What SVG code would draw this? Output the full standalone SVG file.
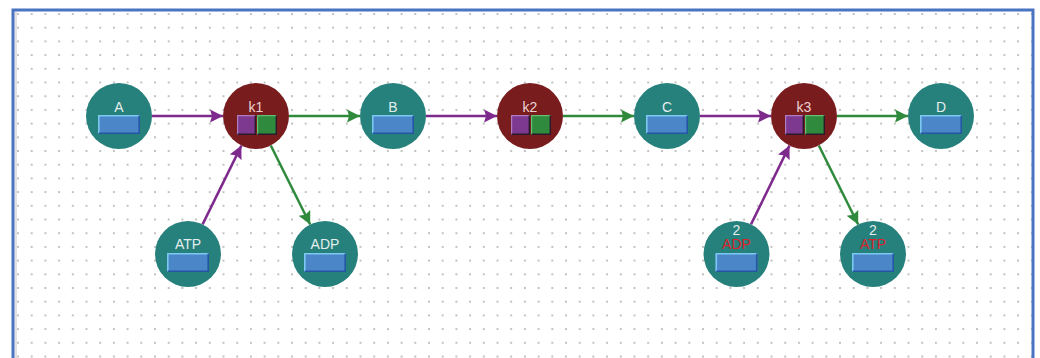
<svg xmlns="http://www.w3.org/2000/svg" width="1040" height="358" viewBox="0 0 1040 358">
  <style>
    .species { fill: #26807b; }
    .reaction { fill: #781c1e; }
    .lbl { font-family: "Liberation Sans", Arial, sans-serif; font-size: 14px; text-anchor: middle; }
    .slbl { fill: #e4eeee; }
    .rlbl { fill: #ecd2d2; }
    .red { fill: #d9232a; }
    .glyph { fill: #4a86c8; }
    .hi { fill: none; stroke: #7cc8f0; stroke-width: 1.6; }
    .lo { fill: none; stroke: #2456a4; stroke-width: 1.6; }
    .sq-p { fill: #7d3990; }
    .sq-g { fill: #2f8a3e; }
    .sq-hi { fill: none; stroke: #b07cc0; stroke-width: 1.2; }
    .sq-hig { fill: none; stroke: #64c070; stroke-width: 1.2; }
    .sq-lo { fill: none; stroke: #2a1a2a; stroke-width: 1.4; }
    .sub { stroke: #7e2a8c; stroke-width: 2.5; fill: none; }
    .prod { stroke: #2f8a3c; stroke-width: 2.5; fill: none; }
  </style>
  <defs>
    <pattern id="grid" patternUnits="userSpaceOnUse" x="11.15" y="7.15" width="13.7" height="13.7">
      <circle cx="6.85" cy="6.85" r="0.9" fill="#a6a6a6"/>
    </pattern>
    <marker id="arrSub" markerUnits="userSpaceOnUse" markerWidth="14" markerHeight="14" refX="13" refY="7" orient="auto">
      <path d="M0,0.5 L13,7 L0,13.5 L2,7 Z" fill="#7e2a8c"/>
    </marker>
    <marker id="arrProd" markerUnits="userSpaceOnUse" markerWidth="14" markerHeight="14" refX="13" refY="7" orient="auto">
      <path d="M0,0.5 L13,7 L0,13.5 L2,7 Z" fill="#2f8a3c"/>
    </marker>
    <!-- species glyph: bevelled blue box -->
    <g id="box">
      <rect class="glyph" x="-21" y="-1" width="42" height="19"/>
      <polyline class="hi" points="-20.2,17.2 -20.2,-0.2 20.2,-0.2"/>
      <polyline class="lo" points="-20.2,17.2 20.2,17.2 20.2,-0.2"/>
    </g>
    <!-- reaction glyph: purple + green squares -->
    <g id="pair">
      <rect class="sq-p" x="-19" y="-1" width="19" height="20"/>
      <polyline class="sq-hi" points="-18.4,18.4 -18.4,-0.4 -0.6,-0.4"/>
      <polyline class="sq-lo" points="-18.4,18.3 -0.7,18.3 -0.7,-0.4"/>
      <rect class="sq-g" x="1" y="-1" width="20" height="20"/>
      <polyline class="sq-hig" points="1.6,18.4 1.6,-0.4 20.4,-0.4"/>
      <polyline class="sq-lo" points="1.6,18.3 20.3,18.3 20.3,-0.4"/>
    </g>
  </defs>

  <!-- canvas -->
  <rect x="0" y="0" width="1040" height="358" fill="#ffffff"/>
  <rect x="15" y="11.5" width="1017" height="347" fill="url(#grid)"/>
  <rect x="14.5" y="11.5" width="2.5" height="347" fill="#e2e2e2"/>
  <rect x="13" y="10" width="1020" height="360" fill="none" stroke="#4a74c2" stroke-width="3"/>

  <!-- connectors -->
  <g id="connectors">
    <line class="sub" x1="152" y1="116" x2="223" y2="116" marker-end="url(#arrSub)"/>
    <line class="prod" x1="289" y1="116" x2="360" y2="116" marker-end="url(#arrProd)"/>
    <line class="sub" x1="426" y1="116" x2="497" y2="116" marker-end="url(#arrSub)"/>
    <line class="prod" x1="563" y1="116" x2="634" y2="116" marker-end="url(#arrProd)"/>
    <line class="sub" x1="700" y1="116" x2="771" y2="116" marker-end="url(#arrSub)"/>
    <line class="prod" x1="837" y1="116" x2="908" y2="116" marker-end="url(#arrProd)"/>
    <line class="sub" x1="202.6" y1="224.4" x2="241.4" y2="145.6" marker-end="url(#arrSub)"/>
    <line class="prod" x1="270.8" y1="145.5" x2="310.2" y2="224.5" marker-end="url(#arrProd)"/>
    <line class="sub" x1="751" y1="224.4" x2="789.5" y2="145.6" marker-end="url(#arrSub)"/>
    <line class="prod" x1="818.8" y1="145.5" x2="858.2" y2="224.5" marker-end="url(#arrProd)"/>
  </g>

  <!-- species -->
  <g id="A" transform="translate(119,116)">
    <circle class="species" r="33"/>
    <text class="lbl slbl" y="-4.5">A</text>
    <use href="#box"/>
  </g>
  <g id="B" transform="translate(393,116)">
    <circle class="species" r="33"/>
    <text class="lbl slbl" y="-4.5">B</text>
    <use href="#box"/>
  </g>
  <g id="C" transform="translate(667,116)">
    <circle class="species" r="33"/>
    <text class="lbl slbl" y="-4.5">C</text>
    <use href="#box"/>
  </g>
  <g id="D" transform="translate(941,116)">
    <circle class="species" r="33"/>
    <text class="lbl slbl" y="-4.5">D</text>
    <use href="#box"/>
  </g>
  <g id="ATP" transform="translate(188,254)">
    <circle class="species" r="33"/>
    <text class="lbl slbl" y="-5.5">ATP</text>
    <use href="#box"/>
  </g>
  <g id="ADP" transform="translate(325,254)">
    <circle class="species" r="33"/>
    <text class="lbl slbl" y="-5.5">ADP</text>
    <use href="#box"/>
  </g>
  <g id="ADP2" transform="translate(736.5,254)">
    <circle class="species" r="33"/>
    <text class="lbl slbl" y="-19">2</text>
    <text class="lbl red" y="-5">ADP</text>
    <use href="#box"/>
  </g>
  <g id="ATP2" transform="translate(873,254)">
    <circle class="species" r="33"/>
    <text class="lbl slbl" y="-19">2</text>
    <text class="lbl red" y="-5">ATP</text>
    <use href="#box"/>
  </g>

  <!-- reactions -->
  <g id="k1" transform="translate(256,116)">
    <circle class="reaction" r="33"/>
    <text class="lbl rlbl" y="-4.5">k1</text>
    <use href="#pair"/>
  </g>
  <g id="k2" transform="translate(530,116)">
    <circle class="reaction" r="33"/>
    <text class="lbl rlbl" y="-4.5">k2</text>
    <use href="#pair"/>
  </g>
  <g id="k3" transform="translate(804,116)">
    <circle class="reaction" r="33"/>
    <text class="lbl rlbl" y="-4.5">k3</text>
    <use href="#pair"/>
  </g>
</svg>
